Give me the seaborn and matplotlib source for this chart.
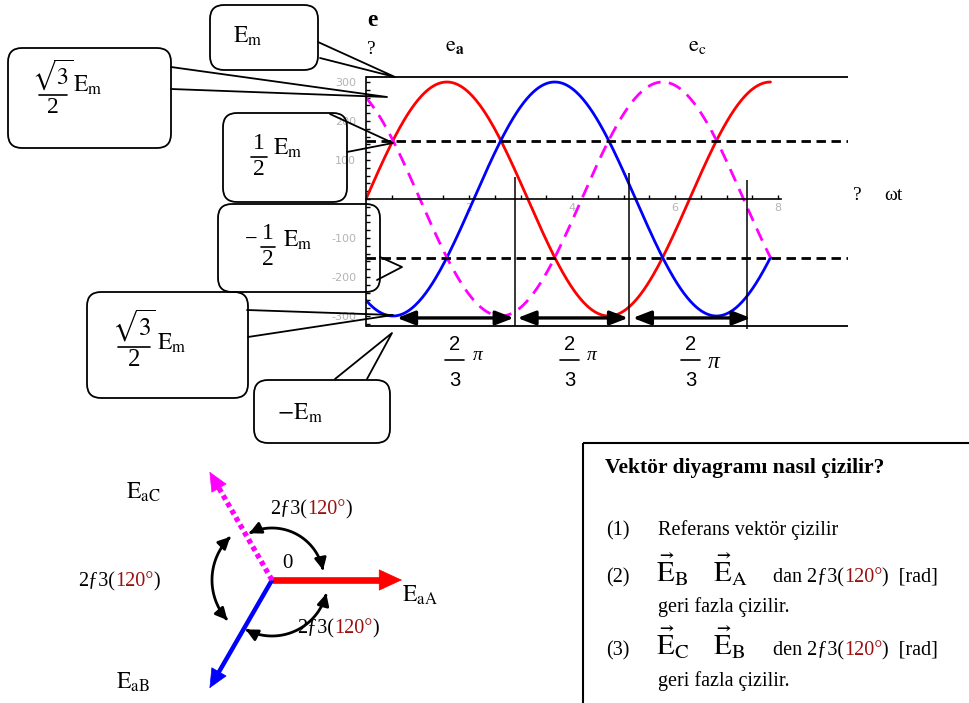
import numpy as np
import pandas as pd
import matplotlib
matplotlib.use("Agg")
import matplotlib.pyplot as plt
import seaborn as sns
from matplotlib.patches import FancyBboxPatch, FancyArrowPatch, Rectangle
from matplotlib.path import Path
from matplotlib.ticker import FixedLocator

# ---------------- data ----------------
phase_labels = ["A", "B", "C"]
phase_shift_deg = [0, -120, 120]
phase_colors = ["#ff0000", "#0000ff", "#ff00ff"]
amplitude = 300
wt_end = 2.5 * np.pi

half_levels = [150, -150]
peak_levels = [313, -326]
y_tick_values = [300, 200, 100, -100, -200, -300]
x_tick_values = [2, 4, 6, 8]

interval_lines_x = [2.90, 5.11, 7.40]
interval_lines_top = [56, 67, 49]
interval_lines_bottom = [-326, -326, -333]
interval_arrow_from = [0.60, 2.94, 5.18]
interval_arrow_to = [2.87, 5.09, 7.47]
interval_arrow_y = -305

phasor_len = [130, 125, 125]
angle_label = ("2\u01923(", "120\u00b0", ")")

# ---------------- style ----------------
sns.set_theme(style="white")
plt.rcParams["font.family"] = ["Liberation Serif", "DejaVu Serif"]
plt.rcParams["mathtext.fontset"] = "stix"
plt.rcParams["axes.unicode_minus"] = False
plt.rcParams["text.color"] = "black"

W, H = 969, 703
fig = plt.figure(figsize=(W / 100, H / 100), dpi=100, facecolor="white")


def px_axes(x0, y0, x1, y1):
    return fig.add_axes([x0 / W, 1 - y1 / H, (x1 - x0) / W, (y1 - y0) / H])


# ---------------- waveform panel ----------------
X0_PX, Y0_PX = 366, 199          # pixel location of the origin
PX_PER_X, PX_PER_Y = 51.5, 0.39
ax = px_axes(366, 60, 848, 340)
ax.set_xlim(0, (848 - X0_PX) / PX_PER_X)
ax.set_ylim((Y0_PX - 340) / PX_PER_Y, (Y0_PX - 60) / PX_PER_Y)
ax.patch.set_alpha(0)

wt = np.linspace(0, wt_end, 361)
frames = []
for name, shift in zip(phase_labels, phase_shift_deg):
    frames.append(pd.DataFrame({
        "wt": wt,
        "e": amplitude * np.sin(wt + np.radians(shift)),
        "phase": name,
    }))
waves = pd.concat(frames, ignore_index=True)

sns.lineplot(data=waves, x="wt", y="e", hue="phase", style="phase",
             palette=dict(zip(phase_labels, phase_colors)),
             dashes={"A": "", "B": "", "C": (4.8, 3)},
             linewidth=2.0, estimator=None, legend=False, ax=ax, zorder=2)

xmax = ax.get_xlim()[1]
ax.hlines(peak_levels, 0, xmax, color="black", lw=1.3, zorder=3)
ax.hlines(half_levels, 0, xmax, color="black", lw=2.0,
          linestyles=(0, (3.4, 2.0)), zorder=3)
ax.vlines(interval_lines_x, interval_lines_bottom, interval_lines_top,
          color="black", lw=1.1, zorder=3)
for xa, xb in zip(interval_arrow_from, interval_arrow_to):
    ax.annotate("", xy=(xb, interval_arrow_y), xytext=(xa, interval_arrow_y),
                arrowprops=dict(arrowstyle="<|-|>,head_length=0.9,head_width=0.35",
                                mutation_scale=12, lw=2.4, color="black",
                                shrinkA=0, shrinkB=0), zorder=4)

for side in ["top", "right"]:
    ax.spines[side].set_visible(False)
for side in ["left", "bottom"]:
    ax.spines[side].set_position(("data", 0))
    ax.spines[side].set_color("black")
    ax.spines[side].set_linewidth(1.2)
ax.spines["left"].set_bounds(peak_levels[1], peak_levels[0])
ax.spines["bottom"].set_bounds(0, 8.05)

ax.xaxis.set_major_locator(FixedLocator(x_tick_values))
ax.xaxis.set_minor_locator(FixedLocator(np.arange(0.5, 8.01, 0.5)))
ax.yaxis.set_major_locator(FixedLocator(y_tick_values))
ax.yaxis.set_minor_locator(FixedLocator(np.arange(-320, 301, 20)))
ax.tick_params(axis="x", which="both", bottom=True, direction="in", length=3,
               width=1, color="black", labelcolor="#b4b4b4", labelsize=8,
               pad=3, labelfontfamily="DejaVu Sans")
ax.tick_params(axis="y", which="both", left=True, direction="in", length=3,
               width=1, color="black", labelcolor="#b4b4b4", labelsize=8,
               pad=7, labelfontfamily="DejaVu Sans")
ax.set_xlabel("")
ax.set_ylabel("")

# ---------------- overlay canvas (pixel coordinates) ----------------
cv = fig.add_axes([0, 0, 1, 1])
cv.set_xlim(0, W)
cv.set_ylim(H, 0)
cv.axis("off")

EM = r"$\mathrm{E}_{\mathrm{m}}$"

# axis titles
cv.text(372, 20, "e", fontsize=17, fontweight="bold", ha="center", va="center")
cv.text(371, 50, "?", fontsize=14, ha="center", va="center")
cv.text(455, 47, r"$\mathrm{e}_{\mathbf{a}}$", fontsize=16, ha="center", va="center")
cv.text(697, 47, r"$\mathrm{e}_{\mathrm{c}}$", fontsize=16, ha="center", va="center")
cv.text(857, 196, "?", fontsize=14, ha="center", va="center")
cv.text(893, 196, "\u03c9t", fontsize=14, ha="center", va="center")

# 2/3 pi interval labels
for cx, pcx, py, ps in [(455, 478, 356, 14), (570, 592, 356, 14), (691, 714, 362, 17)]:
    cv.text(cx, 345, "2", fontsize=14.5, family="Liberation Sans", ha="center", va="center")
    cv.plot([cx - 10, cx + 9], [360, 360], color="black", lw=1.2)
    cv.text(cx, 381, "3", fontsize=14.5, family="Liberation Sans", ha="center", va="center")
    cv.text(pcx, py, "\u03c0", fontsize=ps, style="italic", ha="center", va="center")


def callout(box, tail):
    x0, y0, x1, y1 = box
    cv.add_patch(FancyBboxPatch((x0, y0), x1 - x0, y1 - y0,
                                boxstyle="round,pad=0,rounding_size=14",
                                fc="none", ec="black", lw=1.3))
    (ax1, ay1), (ax2, ay2), (tx, ty) = tail
    cv.plot([ax1, tx, ax2], [ay1, ty, ay2], color="black", lw=1.3)


def fraction(xc, ybar, num, den, half_w, size):
    cv.text(xc, ybar - 3, num, fontsize=size, ha="center", va="bottom")
    cv.plot([xc - half_w, xc + half_w], [ybar, ybar], color="black", lw=1.2)
    cv.text(xc, ybar + 2, den, fontsize=size, ha="center", va="top")


callout((210, 5, 318, 70), ((318, 42), (320, 58), (395, 77)))
cv.text(248, 36, EM, fontsize=17, ha="center", va="center")

callout((8, 48, 171, 148), ((171, 67), (171, 89), (387, 97)))
fraction(53, 95, r"$\sqrt{3}$", "2", 14, 17)
cv.text(73, 85, EM, fontsize=17, ha="left", va="center")

callout((223, 113, 347, 202), ((330, 114), (347, 152), (393, 143)))
fraction(259, 157, "1", "2", 8, 17)
cv.text(273, 148, EM, fontsize=17, ha="left", va="center")

callout((218, 204, 380, 292), ((380, 257), (377, 280), (402, 267)))
cv.text(251, 240, "\u2212", fontsize=16, ha="center", va="center")
fraction(268, 247, "1", "2", 7, 17)
cv.text(283, 240, EM, fontsize=17, ha="left", va="center")

callout((87, 292, 248, 398), ((247, 310), (248, 337), (393, 315)))
fraction(134, 347, r"$\sqrt{3}$", "2", 16, 18)
cv.text(157, 343, EM, fontsize=17, ha="left", va="center")

callout((254, 380, 390, 443), ((335, 379), (367, 379), (392, 333)))
cv.text(300, 413, r"$-\mathrm{E}_{\mathrm{m}}$", fontsize=17, ha="center", va="center")


# multi-coloured text run
def text_run(x, y, parts, size):
    t = cv.text(x, y, parts[0][0], color=parts[0][1], fontsize=size,
                ha="left", va="baseline")
    for s, c in parts[1:]:
        t = cv.annotate(s, xycoords=t, xy=(1, 0), va="bottom", ha="left",
                        color=c, fontsize=size)
    return t


RED_TXT = "#9b1010"


def angle_parts(prefix="", suffix=""):
    return [(prefix + angle_label[0], "black"), (angle_label[1], RED_TXT),
            (angle_label[2] + suffix, "black")]


# ---------------- phasor diagram ----------------
cx, cy = 272, 580
tips = []
for L, deg in zip(phasor_len, phase_shift_deg):
    th = np.radians(deg)
    tips.append((cx + L * np.cos(th), cy - L * np.sin(th)))

line_styles = ["-", "-", (0, (0.9, 0.7))]
line_widths = [4.8, 3.2, 3.8]
head_len = [22, 18, 18]
for (tx, ty), col, ls, lw, hl in zip(tips, phase_colors, line_styles, line_widths, head_len):
    L = np.hypot(tx - cx, ty - cy)
    ux, uy = (tx - cx) / L, (ty - cy) / L
    bx, by = tx - ux * hl, ty - uy * hl
    cv.plot([cx, bx], [cy, by], color=col, lw=lw, linestyle=ls,
            solid_capstyle="butt", dash_capstyle="butt", zorder=3)
    cv.add_patch(FancyArrowPatch((bx - ux * 2, by - uy * 2), (tx, ty),
                                 arrowstyle="-|>,head_length=%.1f,head_width=%.1f" % (hl * 0.72, hl * 0.33),
                                 mutation_scale=1, color=col, lw=0.5,
                                 shrinkA=0, shrinkB=0, zorder=4))

# angle arcs
for r, a0, a1 in [(52, 116, 11), (60, 134, 222), (56, 242, 346)]:
    th = np.radians(np.linspace(a0, a1, 60))
    pts = np.column_stack([cx + r * np.cos(th), cy - r * np.sin(th)])
    cv.add_patch(FancyArrowPatch(path=Path(pts),
                                 arrowstyle="<|-|>,head_length=7,head_width=3.5",
                                 mutation_scale=1, color="black", lw=2.0, zorder=4))

cv.text(287, 563, "0", fontsize=15, ha="center", va="center")
cv.text(143, 492, r"$\mathrm{E}_{\mathrm{aC}}$", fontsize=17, ha="center", va="center")
cv.text(420, 595, r"$\mathrm{E}_{\mathrm{aA}}$", fontsize=17, ha="center", va="center")
cv.text(133, 682, r"$\mathrm{E}_{\mathrm{aB}}$", fontsize=17, ha="center", va="center")

text_run(270, 514, angle_parts(), 14.5)
text_run(78, 586, angle_parts(), 14.5)
text_run(297, 633, angle_parts(), 14.5)

# ---------------- instruction box ----------------
cv.add_patch(Rectangle((583, 443), 400, 270, fc="none", ec="black", lw=1.5))
cv.text(605, 473, "Vektör diyagramı nasıl çizilir?", fontsize=15.5,
        fontweight="bold", ha="left", va="baseline")
cv.text(606, 535, "(1)", fontsize=14.5, ha="left", va="baseline")
cv.text(658, 535, "Referans vektör çizilir", fontsize=14.5, ha="left", va="baseline")

cv.text(606, 582, "(2)", fontsize=14.5, ha="left", va="baseline")
cv.text(656, 582, r"$\vec{\mathrm{E}}_{\mathrm{B}}$", fontsize=21, ha="left", va="baseline")
cv.text(713, 582, r"$\vec{\mathrm{E}}_{\mathrm{A}}$", fontsize=21, ha="left", va="baseline")
text_run(773, 582, angle_parts("dan ", "  [rad]"), 14.5)
cv.text(658, 612, "geri fazla çizilir.", fontsize=14.5, ha="left", va="baseline")

cv.text(606, 655, "(3)", fontsize=14.5, ha="left", va="baseline")
cv.text(656, 655, r"$\vec{\mathrm{E}}_{\mathrm{C}}$", fontsize=21, ha="left", va="baseline")
cv.text(713, 655, r"$\vec{\mathrm{E}}_{\mathrm{B}}$", fontsize=21, ha="left", va="baseline")
text_run(773, 655, angle_parts("den ", "  [rad]"), 14.5)
cv.text(658, 686, "geri fazla çizilir.", fontsize=14.5, ha="left", va="baseline")

fig.savefig("out.png", dpi=100, facecolor="white")
